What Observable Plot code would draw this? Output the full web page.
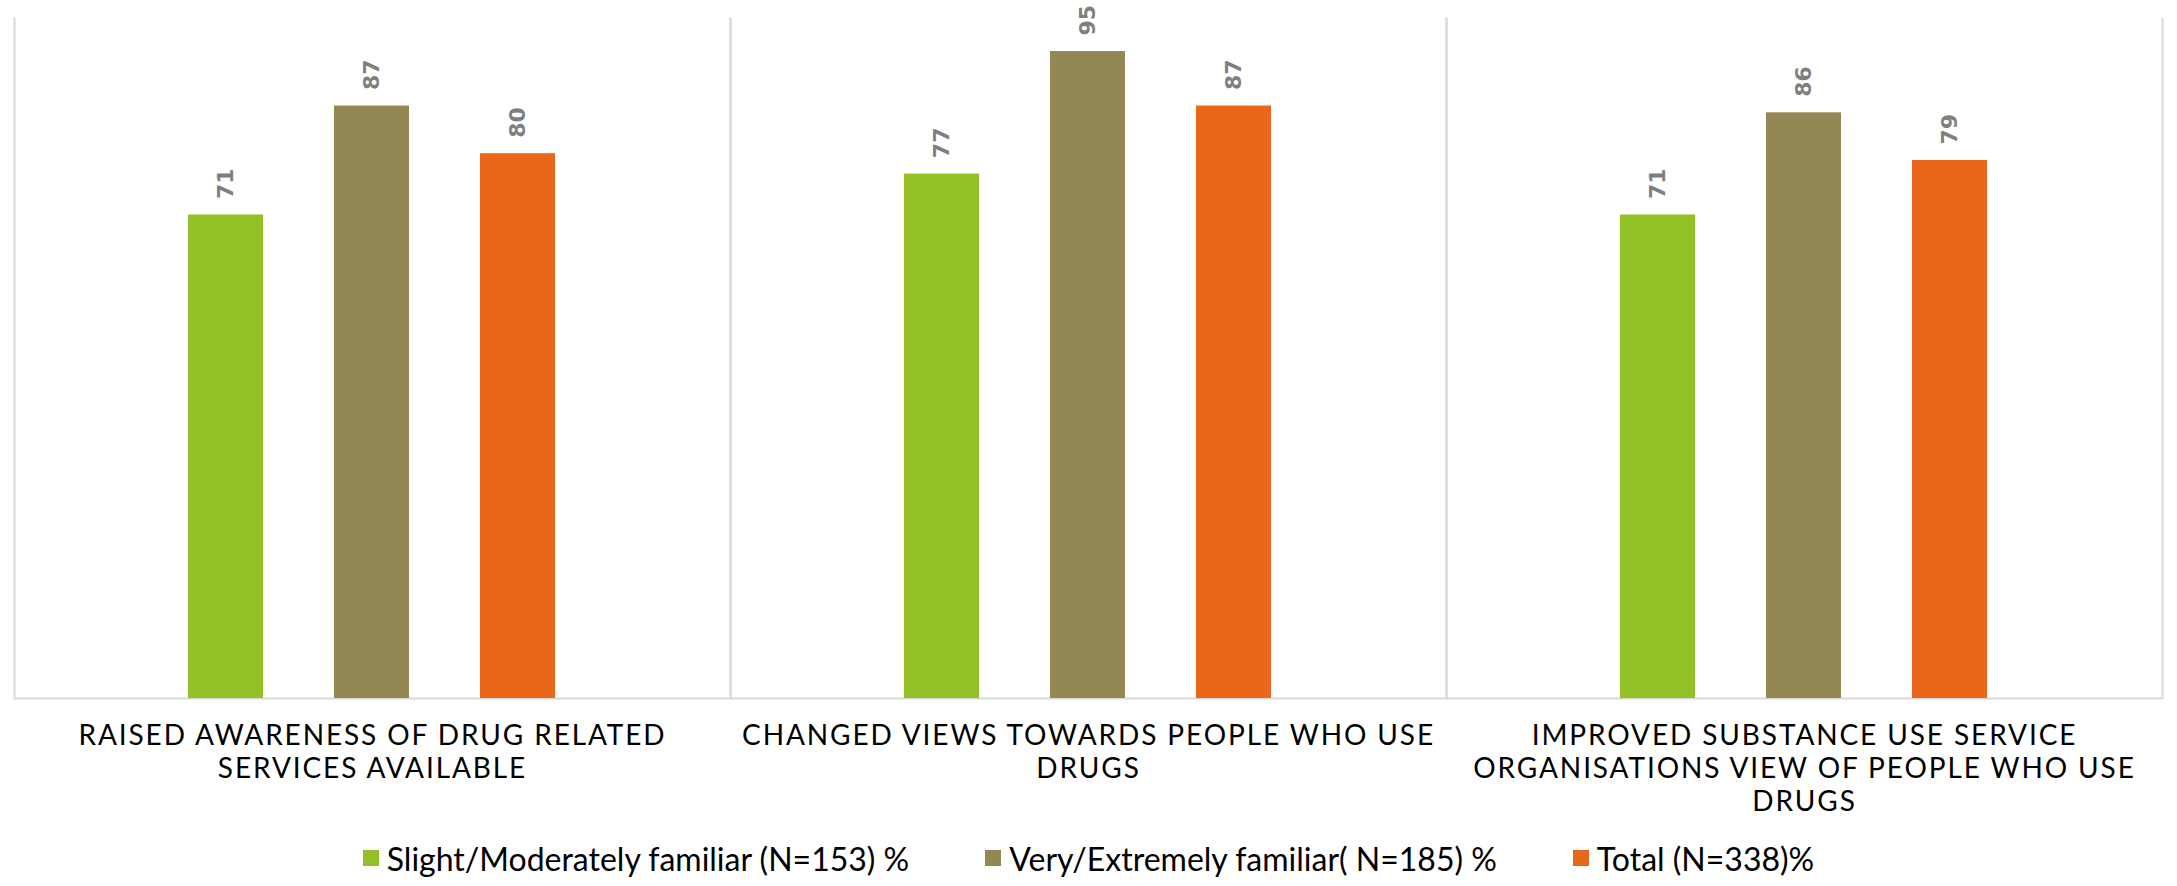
<!DOCTYPE html>
<html>
<head>
<meta charset="utf-8">
<script src="https://cdn.jsdelivr.net/npm/d3@7"></script>
<script src="https://cdn.jsdelivr.net/npm/@observablehq/plot@0.6"></script>
<style>
  html, body { margin: 0; padding: 0; background: #ffffff; }
  #chart svg { display: block; }
  g[font-family="Lato"] text { letter-spacing: 1.9px; }
  #legend { height: 56px; display: flex; justify-content: center; align-items: center;
            font-family: Lato, sans-serif; font-size: 32px; color: #000; }
  .item { display: flex; align-items: center; margin: 0 38px; white-space: pre; }
  .sw { width: 16px; height: 16px; margin-right: 8px; }
</style>
</head>
<body>
<div id="chart"></div>
<div id="legend"></div>
<script>
const categories = [
  "Raised awareness of drug related services available",
  "Changed views towards people who use drugs",
  "Improved substance use service organisations view of people who use drugs"
];
const categoryLabels = [
  "RAISED AWARENESS OF DRUG RELATED\nSERVICES AVAILABLE",
  "CHANGED VIEWS TOWARDS PEOPLE WHO USE\nDRUGS",
  "IMPROVED SUBSTANCE USE SERVICE\nORGANISATIONS VIEW OF PEOPLE WHO USE\nDRUGS"
];
const series = [
  "Slight/Moderately familiar (N=153) %",
  "Very/Extremely familiar( N=185) %",
  "Total (N=338)%"
];
const colors = ["#92c125", "#928755", "#e8671a"];
const slightValues = [71, 77, 71];
const veryValues = [87, 95, 86];
const totalValues = [80, 87, 79];

const seriesValues = [slightValues, veryValues, totalValues];
const data = [];
categories.forEach((c, i) => {
  series.forEach((s, j) => data.push({category: c, series: s, value: seriesValues[j][i]}));
});

const W = 2177, H = 830;
const mL = 14, mR = 15, mT = 17, mB = 132;
const fw = (W - mL - mR) / 3, fh = H - mT - mB;

const chart = Plot.plot({
  width: W,
  height: H,
  marginLeft: mL,
  marginRight: mR,
  marginTop: mT,
  marginBottom: mB,
  style: {background: "#ffffff", overflow: "visible"},
  fx: {domain: categories, paddingInner: 0, paddingOuter: 0, axis: null},
  x: {domain: series, paddingInner: 0.483, paddingOuter: 1.177, axis: null},
  y: {domain: [0, 100], axis: null},
  color: {domain: series, range: colors},
  marks: [
    Plot.frame({stroke: "#d9d9d9", strokeWidth: 2, strokeDasharray: `0 ${fw} ${2 * fh + fw}`}),
    Plot.barY(data, {fx: "category", x: "series", y: "value", fill: "series"}),
    Plot.text(data, {
      fx: "category", x: "series", y: "value", text: d => String(d.value),
      rotate: -90, textAnchor: "start", lineAnchor: "middle", dy: -16,
      fill: "#7f7f7f", fontWeight: "bold", fontSize: 22, fontFamily: "DejaVu Sans"
    }),
    Plot.text(categories, {
      fx: d => d, text: (d, i) => categoryLabels[i],
      frameAnchor: "bottom", lineAnchor: "top", dy: 23, lineHeight: 1.18,
      fontSize: 28, fontFamily: "Lato", fill: "#000"
    })
  ]
});
document.getElementById("chart").appendChild(chart);

const legend = d3.select("#legend");
series.forEach((s, j) => {
  const it = legend.append("div").attr("class", "item");
  it.append("div").attr("class", "sw").style("background", colors[j]);
  it.append("span").text(s);
});
</script>
</body>
</html>
